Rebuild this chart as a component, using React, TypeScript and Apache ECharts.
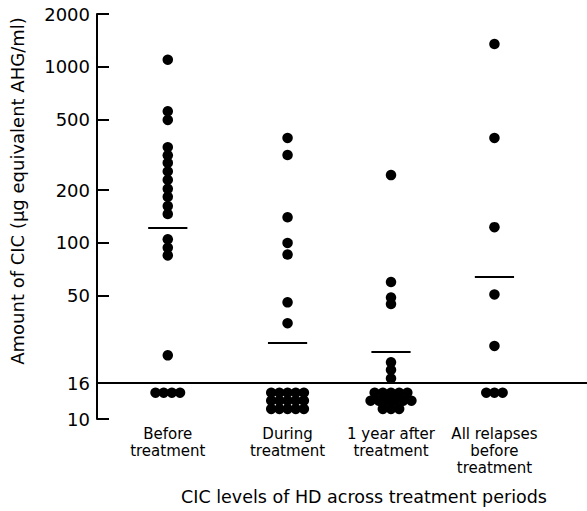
import React, { useEffect, useRef } from "react";
import * as echarts from "echarts";

const categories = [
  "Before\ntreatment",
  "During\ntreatment",
  "1 year after\ntreatment",
  "All relapses\nbefore\ntreatment",
];
const beforeValues = [1100, 560, 500, 350, 315, 285, 255, 228, 203, 183, 162, 146, 105, 94, 85, 23];
const duringValues = [395, 316, 140, 100, 86, 46, 35];
const yearAfterValues = [243, 60, 49, 45, 21, 19, 17];
const relapseValues = [1350, 395, 123, 51, 26];
const groupMeans = [122, 27, 24, 64];
// samples below the detection limit (<16), plotted as clusters: dots per row
const undetectableRows = [[4], [5, 5, 5], [5, 6, 3], [3]];
const undetectableRowValues = [14.1, 12.7, 11.4];
const detectionLimit = 16;
const yTicks = [10, 16, 50, 100, 200, 500, 1000, 2000];

const groupValues = [beforeValues, duringValues, yearAfterValues, relapseValues];
const groupX = [0.65, 1.75, 2.7, 3.65];
const clusterStep = 0.075;
const meanHalfWidth = 0.18;
const FONT = "DejaVu Sans";

function buildGroupData(i: number) {
  const gx = groupX[i];
  const pts: number[][] = groupValues[i].map((v) => [gx, v]);
  undetectableRows[i].forEach((n, r) => {
    for (let j = 0; j < n; j++) {
      pts.push([gx + (j - (n - 1) / 2) * clusterStep, undetectableRowValues[r]]);
    }
  });
  return pts;
}

export default function App() {
  const ref = useRef<HTMLDivElement>(null);
  useEffect(() => {
    if (!ref.current) return;
    const chart = echarts.init(ref.current, undefined, { renderer: "svg" });
    const series: any[] = groupValues.map((_, i) => ({
      type: "scatter",
      data: buildGroupData(i),
      symbol: "circle",
      symbolSize: 10.5,
      itemStyle: { color: "#000", opacity: 1 },
      silent: true,
      markLine: {
        silent: true,
        symbol: "none",
        label: { show: false },
        lineStyle: { color: "#000", width: 2, type: "solid", opacity: 1 },
        data: [
          [
            { coord: [groupX[i] - meanHalfWidth, groupMeans[i]] },
            { coord: [groupX[i] + meanHalfWidth, groupMeans[i]] },
          ],
          ...(i === 0 ? [{ yAxis: detectionLimit }] : []),
        ],
      },
    }));
    chart.setOption({
      animation: false,
      backgroundColor: "#fff",
      grid: { left: 97, right: 0, top: 14, bottom: 92 },
      xAxis: {
        type: "value",
        min: 0,
        max: 4.5,
        axisLine: { show: false },
        axisTick: { show: false },
        splitLine: { show: false },
        axisLabel: {
          customValues: groupX,
          formatter: (v: number) => {
            const k = groupX.findIndex((g) => Math.abs(g - v) < 1e-6);
            return k >= 0 ? categories[k] : "";
          },
          margin: 6,
          fontSize: 15,
          lineHeight: 17,
          color: "#000",
          fontFamily: FONT,
        },
      },
      yAxis: {
        type: "log",
        logBase: 10,
        min: 10,
        max: 2000,
        axisLine: { show: true, lineStyle: { color: "#000", width: 2 } },
        axisTick: {
          show: true,
          inside: true,
          length: 12,
          customValues: yTicks,
          lineStyle: { color: "#000", width: 2 },
        },
        axisLabel: {
          customValues: yTicks,
          formatter: (v: number) => String(Math.round(v)),
          fontSize: 18,
          color: "#000",
          margin: 7,
          fontFamily: FONT,
        },
        splitLine: { show: false },
      },
      graphic: [
        {
          type: "text",
          x: 17,
          y: 191,
          rotation: Math.PI / 2,
          style: {
            text: "Amount of CIC (μg equivalent AHG/ml)",
            fontSize: 18,
            fontFamily: FONT,
            fill: "#000",
            align: "center",
            verticalAlign: "middle",
          },
        },
        {
          type: "text",
          x: 364,
          y: 497,
          style: {
            text: "CIC levels of HD across treatment periods",
            fontSize: 17.5,
            fontFamily: FONT,
            fill: "#000",
            align: "center",
            verticalAlign: "middle",
          },
        },
      ],
      series,
    });
    return () => chart.dispose();
  }, []);
  return <div ref={ref} style={{ width: 587, height: 511, position: "absolute", left: 0, top: 0 }} />;
}
